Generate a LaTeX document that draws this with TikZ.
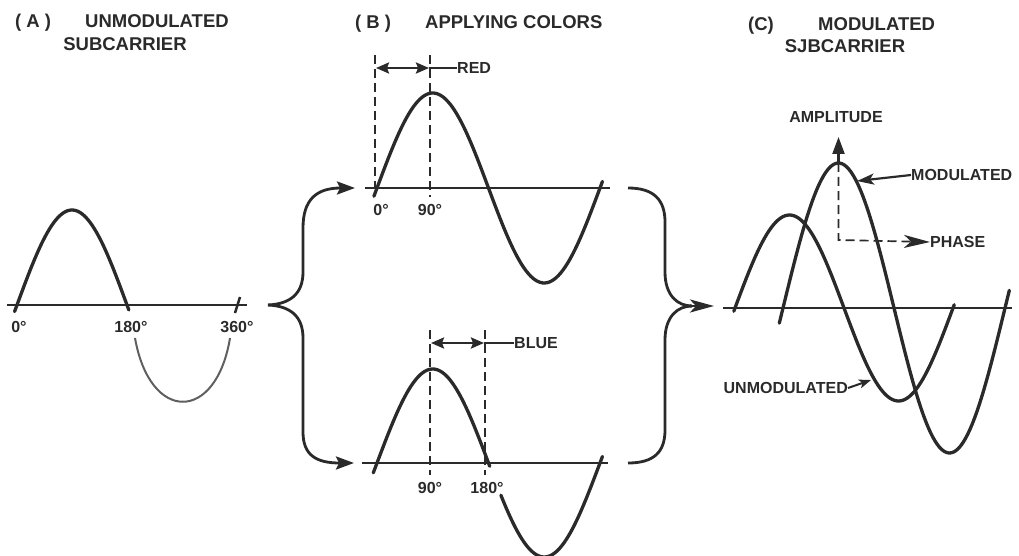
\documentclass[tikz,border=0pt]{standalone}
\usepackage{fontspec}
\setmainfont{Liberation Sans}
\usetikzlibrary{arrows.meta}
\definecolor{ink}{HTML}{2A2A2A}
\begin{document}
\begin{tikzpicture}[x=1pt,y=-1pt,
  wave/.style={ink,line width=3.3pt,line cap=round},
  axisline/.style={ink,line width=2pt},
  guide/.style={ink,line width=1.7pt,dash pattern=on 9pt off 5pt},
  title/.style={inner sep=0pt,font=\bfseries\fontsize{18.5}{20}\selectfont,text=ink,text height=13.5pt,text depth=0pt},
  lbl/.style={inner sep=0pt,font=\bfseries\fontsize{16}{18}\selectfont,text=ink,text height=11.5pt,text depth=0pt},
  feed/.style={ink,line width=2.8pt,-{Stealth[length=18pt,width=13pt,inset=3pt]}},
  dim/.style={ink,line width=2.4pt,{Stealth[length=13pt,width=11pt,inset=2pt]}-{Stealth[length=13pt,width=11pt,inset=2pt]}},
  pointer/.style={ink,line width=2.2pt,-{Stealth[length=17pt,width=11pt,inset=4pt]}},
  ]
\useasboundingbox (0,0) rectangle (1019,556);

% ---------- titles ----------
\node[title,anchor=west] (tAa) at (15,21) {( A )};
\node[title,anchor=west] (tA1) at (85,21) {UNMODULATED};
\node[title] (tA2) at (125,44) {SUBCARRIER};
\node[title,anchor=west] (tBa) at (355,22) {( B )};
\node[title,anchor=west] (tB1) at (425,22) {APPLYING COLORS};
\node[title,anchor=west] (tCa) at (748,24) {(C)};
\node[title,anchor=west] (tC1) at (818,24) {MODULATED};
\node[title] (tC2) at (845,46) {SJBCARRIER};

% ---------- panel A ----------
\coordinate (A0) at (7,305);
\coordinate (A1) at (247,305);
\draw[axisline] (A0) -- (A1);
\draw[wave] plot[domain=-4:183,samples=60] ({17+\x*0.6111},{305-95*sin(\x)});
\draw[ink,line width=2.5pt] (235,313) -- (240,297);
\draw[ink!75,line width=2pt] (135,338) .. controls (150,423) and (216,423) .. (230,338);
\node[lbl] (a0) at (19,327) {0°};
\node[lbl] (a180) at (131,327) {180°};
\node[lbl] (a360) at (237,327) {360°};

% ---------- left brace ----------
\coordinate (LB) at (268,305);
\coordinate (Btop) at (355,188);
\coordinate (Bbot) at (354,463);
\draw[feed] (LB) .. controls (290,304) and (303,294) .. (303,272) -- (303,228)
  .. controls (303,200) and (316,188) .. (Btop);
\draw[feed] (LB) .. controls (290,306) and (303,316) .. (303,338) -- (303,432)
  .. controls (303,455) and (316,463) .. (Bbot);

% ---------- panel B top ----------
\draw[axisline] (365,188) -- (610,188);
\draw[wave] plot[domain=-5:364,samples=100] ({377+\x*0.6194},{188-95*sin(\x)});
\draw[guide] (375,55) -- (375,188);
\draw[guide] (430,55) -- (430,197);
\coordinate (r0) at (376,68);
\coordinate (r1) at (429,68);
\draw[dim] (r0) -- (r1);
\node[lbl,anchor=west] (red) at (457,68) {RED};
\draw[ink,line width=2.2pt] (r1) -- (red.west);
\node[lbl] (b0) at (381,210) {0°};
\node[lbl] (b90) at (430,210) {90°};

% ---------- panel B bottom ----------
\draw[axisline] (362,463) -- (608,463);
\draw[wave] plot[domain=-6:182,samples=60] ({377+\x*0.6194},{463-94*sin(\x)});
\draw[wave] plot[domain=200:364,samples=60] ({377+\x*0.6194},{463-94*sin(\x)});
\draw[guide] (430,330) -- (430,475);
\draw[guide] (485,330) -- (485,475);
\coordinate (u0) at (431,343);
\coordinate (u1) at (484,343);
\draw[dim] (u0) -- (u1);
\node[lbl,anchor=west] (blue) at (514,343) {BLUE};
\draw[ink,line width=2.2pt] (u1) -- (blue.west);
\node[lbl] (c90) at (430,488) {90°};
\node[lbl] (c180) at (487,488) {180°};

% ---------- right brace ----------
\coordinate (RBm) at (692,306);
\coordinate (RB) at (714,306);
\draw[ink,line width=2.8pt] (628,188) .. controls (654,188) and (665,200) .. (665,222) -- (665,272)
  .. controls (665,296) and (678,306) .. (RBm);
\draw[ink,line width=2.8pt] (628,463) .. controls (654,463) and (665,452) .. (665,430) -- (665,340)
  .. controls (665,316) and (678,306) .. (RBm);
\draw[ink,line width=2.8pt,-{Stealth[length=24pt,width=13pt,inset=6pt]}] (RBm) -- (RB);

% ---------- panel C ----------
\draw[axisline] (723,308) -- (1012,308);
\draw[wave] plot[domain=-2:362,samples=100] ({735+\x*0.6056},{308-93*sin(\x)});
\draw[wave] plot[domain=-6:367,samples=100] ({783+\x*0.6167},{308-145*sin(\x)});
\coordinate (P) at (838.5,163);
\coordinate (ampTip) at (838.5,137);
\draw[ink,line width=2.2pt,-{Triangle[length=17pt,width=12pt]}] (P) -- (ampTip);
\node[lbl] (amp) at (836,117) {AMPLITUDE};
\node[lbl,anchor=west] (phase) at (930,242) {PHASE};
\coordinate (Pc) at (838.5,240);
\draw[guide,-{Stealth[length=26pt,width=13pt,inset=7pt]}] (P) -- (Pc) -- (phase.west);
\node[lbl,anchor=west] (modl) at (911,175) {MODULATED};
\coordinate (modHit) at (857,181);
\draw[pointer] (modl.west) -- (modHit);
\node[lbl,anchor=east] (unml) at (848,388) {UNMODULATED};
\coordinate (unmHit) at (871,380);
\draw[ink,line width=2pt,-{Stealth[length=12pt,width=9pt,inset=3pt]}] (unml.east) -- (unmHit);
\end{tikzpicture}
\end{document}
